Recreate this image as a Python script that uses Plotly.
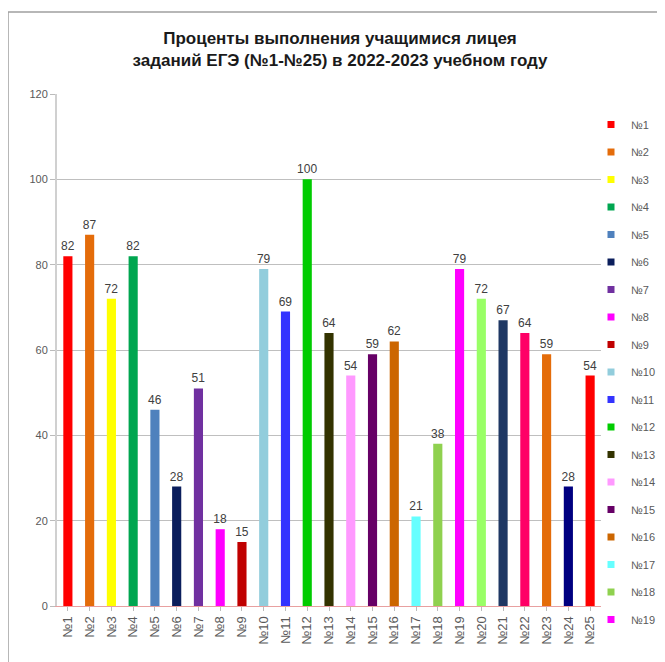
import plotly.graph_objects as go

categories = ["№1", "№2", "№3", "№4", "№5", "№6", "№7", "№8", "№9", "№10",
              "№11", "№12", "№13", "№14", "№15", "№16", "№17", "№18", "№19", "№20",
              "№21", "№22", "№23", "№24", "№25"]
values = [82, 87, 72, 82, 46, 28, 51, 18, 15, 79,
          69, 100, 64, 54, 59, 62, 21, 38, 79, 72,
          67, 64, 59, 28, 54]
colors = ["#FF0000", "#E46C0A", "#FFFF00", "#00A650", "#4F81BD", "#0B1E5C", "#7030A0", "#FF00FF", "#C00000", "#92CDDC",
          "#3333FF", "#00CC00", "#333300", "#FF99FF", "#660066", "#CC6600", "#66FFFF", "#8FD14F", "#FF00FF", "#99FF66",
          "#1F3864", "#FF0066", "#E46C0A", "#000080", "#FF0000"]
legend_count = 19

title_text = "Проценты выполнения учащимися лицея<br>заданий ЕГЭ (№1-№25) в 2022-2023 учебном году"
y_ticks = [0, 20, 40, 60, 80, 100, 120]

# figure sits 8px inside the page (body margin), so size is reduced accordingly
W, H = 657, 654
PL, PR, PT, PB = 49, 593, 86, 598
pw, ph = PR - PL, PB - PT

fig = go.Figure()
for i, (c, v, col) in enumerate(zip(categories, values, colors)):
    fig.add_trace(go.Bar(
        x=[c], y=[v], name=c, marker=dict(color=col, line=dict(width=0)),
        text=[str(v)], textposition="outside", constraintext="none", cliponaxis=False,
        textfont=dict(family="Liberation Sans, Arial", size=12, color="#404040"),
        showlegend=False, legendgroup=c,
    ))
for i in range(legend_count):
    fig.add_trace(go.Scatter(
        x=[None], y=[None], mode="markers", name=categories[i], legendgroup=categories[i],
        marker=dict(symbol="square", size=7, color=colors[i]),
        showlegend=True,
    ))

fig.update_layout(
    width=W, height=H,
    margin=dict(l=PL, r=W - PR, t=PT, b=H - PB, autoexpand=False),
    paper_bgcolor="white", plot_bgcolor="white",
    barmode="overlay", bargap=0.58,
    title=dict(text=title_text, x=(332 - PL) / pw, xanchor="center", xref="paper",
               y=1 - 36 / H, yanchor="top", yref="container",
               font=dict(family="Liberation Sans, Arial", size=17, color="#1a1a1a", weight="bold")),
    font=dict(family="Liberation Sans, Arial", size=11, color="#595959"),
    legend=dict(x=(583 - PL) / pw, xanchor="left", y=(PB - 102) / ph, yanchor="top",
                font=dict(size=11, color="#595959"), tracegroupgap=8.5, itemwidth=30,
                maxheight=560, borderwidth=0, bgcolor="rgba(0,0,0,0)"),
    xaxis=dict(categoryorder="array", categoryarray=categories, tickangle=-90,
               showgrid=False, showline=True, linecolor="#E8A0A0", linewidth=1,
               ticks="outside", ticklen=4, tickcolor="#BBBBBB",
               tickfont=dict(size=13, color="#595959")),
    yaxis=dict(range=[0, 120], tickvals=y_ticks, showgrid=True, gridcolor="#BFBFBF", gridwidth=1,
               showline=True, linecolor="#D0D0D0", linewidth=2,
               ticks="outside", ticklen=5, tickcolor="#BBBBBB", zeroline=False,
               tickfont=dict(size=11, color="#595959")),
    shapes=[dict(type="rect", xref="paper", yref="paper",
                 x0=(0 - PL) / pw, x1=(W + 10 - PL) / pw,
                 y0=(PB - (H + 10)) / ph, y1=(PB - 4) / ph,
                 line=dict(color="#A0A0A0", width=1.5), layer="below")],
)

fig.write_html("out.html")
